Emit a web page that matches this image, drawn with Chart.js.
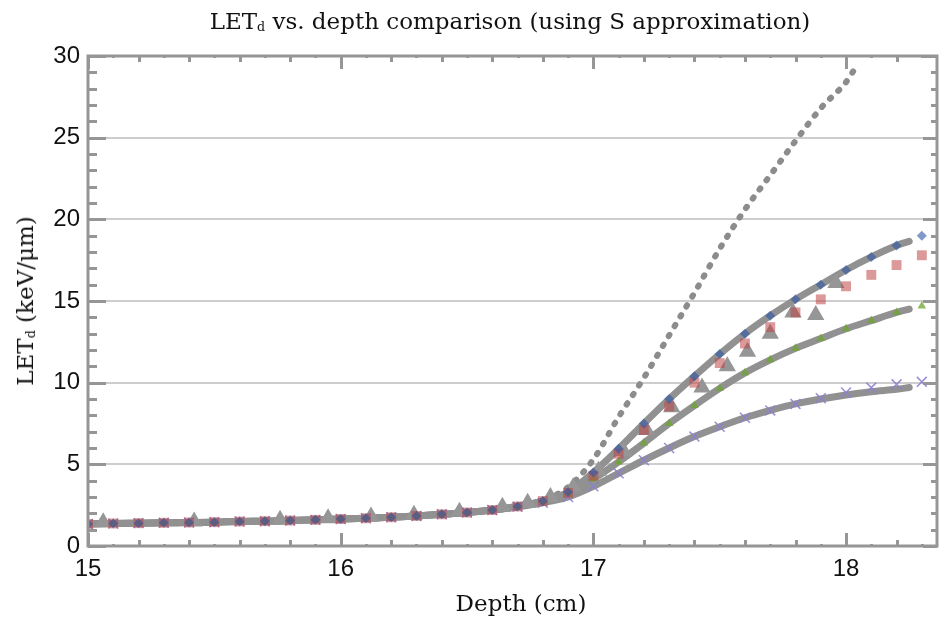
<!DOCTYPE html>
<html>
<head>
<meta charset="utf-8">
<script src="https://cdn.jsdelivr.net/npm/chart.js@4.4.1/dist/chart.umd.min.js"></script>
<style>
  html, body { margin: 0; padding: 0; background: #fff; overflow: hidden; }
  #wrap { position: relative; width: 939px; height: 621px; overflow: hidden; }
  canvas { position: absolute; left: 0; top: 0; }
  .lbl { position: absolute; font-family: "DejaVu Serif", serif; color: #111; white-space: nowrap; }
  .lbl sub { font-size: 0.55em; vertical-align: -0.15em; }
  #title { left: 0; width: 1020px; top: 8px; text-align: center; font-size: 23px; }
  #xtitle { left: 0; width: 1042px; top: 590px; text-align: center; font-size: 23px; }
  #ytitle { left: 25px; top: 301px; font-size: 23px; transform: translate(-50%, -50%) rotate(-90deg); }
</style>
</head>
<body>
<div id="wrap">
  <canvas id="c" width="939" height="621"></canvas>
  <div id="title" class="lbl">LET<sub>d</sub> vs. depth comparison (using S approximation)</div>
  <div id="xtitle" class="lbl">Depth (cm)</div>
  <div id="ytitle" class="lbl">LET<sub>d</sub> (keV/μm)</div>
</div>
<script>
// ---- data ----
const depth = [15.0,15.1,15.2,15.3,15.4,15.5,15.6,15.7,15.8,15.9,16.0,16.1,16.2,16.3,16.4,16.5,16.6,16.7,16.8,16.9,17.0,17.1,17.2,17.3,17.4,17.5,17.6,17.7,17.8,17.9,18.0,18.1,18.2,18.3];
const letBlue   = [1.35,1.38,1.4,1.42,1.44,1.46,1.5,1.52,1.56,1.6,1.65,1.7,1.76,1.84,1.94,2.05,2.2,2.42,2.75,3.3,4.5,5.95,7.5,9.0,10.4,11.75,13.0,14.1,15.1,16.0,16.9,17.7,18.4,19.0];
const letRed    = [1.35,1.38,1.4,1.42,1.44,1.46,1.5,1.52,1.56,1.6,1.65,1.7,1.76,1.84,1.94,2.05,2.2,2.42,2.75,3.25,4.3,5.65,7.1,8.55,10.0,11.2,12.4,13.4,14.3,15.1,15.9,16.6,17.2,17.8];
const letGreen  = [1.35,1.38,1.4,1.42,1.44,1.46,1.5,1.52,1.56,1.6,1.65,1.7,1.76,1.84,1.94,2.05,2.2,2.42,2.75,3.2,4.1,5.15,6.3,7.5,8.6,9.65,10.6,11.4,12.1,12.7,13.3,13.8,14.3,14.7];
const letPurple = [1.35,1.38,1.4,1.42,1.44,1.46,1.5,1.52,1.56,1.6,1.65,1.7,1.76,1.84,1.94,2.05,2.2,2.4,2.65,3.0,3.65,4.45,5.25,6.0,6.7,7.3,7.85,8.3,8.7,9.05,9.4,9.7,9.9,10.05];

const fitDepth = [15.0,15.1,15.2,15.3,15.4,15.5,15.6,15.7,15.8,15.9,16.0,16.1,16.2,16.3,16.4,16.5,16.6,16.7,16.8,16.9,17.0,17.1,17.2,17.3,17.4,17.5,17.6,17.7,17.8,17.9,18.0,18.1,18.2,18.25];
const fitUpper = [1.35,1.38,1.4,1.42,1.44,1.46,1.5,1.52,1.56,1.6,1.65,1.7,1.76,1.84,1.94,2.05,2.2,2.42,2.75,3.3,4.5,5.95,7.5,9.0,10.4,11.75,13.0,14.1,15.1,16.0,16.9,17.7,18.4,18.65];
const fitMid   = [1.35,1.38,1.4,1.42,1.44,1.46,1.5,1.52,1.56,1.6,1.65,1.7,1.76,1.84,1.94,2.05,2.2,2.42,2.75,3.2,4.1,5.15,6.3,7.5,8.6,9.65,10.6,11.4,12.1,12.7,13.3,13.8,14.3,14.5];
const fitLower = [1.35,1.38,1.4,1.42,1.44,1.46,1.5,1.52,1.56,1.6,1.65,1.7,1.76,1.84,1.94,2.05,2.2,2.4,2.65,3.0,3.65,4.45,5.25,6.0,6.7,7.3,7.85,8.3,8.7,9.0,9.25,9.45,9.6,9.7];

const dotDepth = [15.0,15.1,15.2,15.3,15.4,15.5,15.6,15.7,15.8,15.9,16.0,16.1,16.2,16.3,16.4,16.5,16.6,16.7,16.8,16.9,17.0,17.1,17.2,17.3,17.4,17.5,17.6,17.7,17.8,17.9,18.0,18.03];
const dotLet   = [1.35,1.38,1.4,1.42,1.44,1.46,1.5,1.52,1.56,1.6,1.65,1.7,1.76,1.84,1.94,2.05,2.2,2.42,2.8,3.6,5.3,7.9,10.3,12.9,15.5,18.2,20.6,22.7,24.8,26.8,28.4,29.1];

const triDepth = [15.06,15.42,15.76,15.95,16.12,16.29,16.47,16.64,16.74,16.83,16.92,17.02,17.12,17.21,17.31,17.43,17.53,17.61,17.70,17.79,17.88,17.96];
const triLet   = [1.45,1.5,1.6,1.7,1.8,1.92,2.1,2.4,2.65,3.0,3.6,4.6,5.8,7.1,8.5,9.7,11.0,11.9,13.0,14.3,14.15,16.1];

const xTicks = [15, 16, 17, 18];
const yTicks = [0, 5, 10, 15, 20, 25, 30];

// ---- helpers ----
const pts = (xs, ys) => xs.map((x, i) => ({ x: x, y: ys[i] }));

const GRAY = 'rgb(145,145,145)';
const FRAME = 'rgb(150,150,150)';

const frameTicks = {
  id: 'frameTicks',
  afterDatasetsDraw(chart) {
    const { ctx, chartArea: a, scales: { x, y } } = chart;
    ctx.save();
    ctx.strokeStyle = FRAME;
    ctx.lineCap = 'butt';
    ctx.lineWidth = 3;
    for (let v = y.min; v <= y.max + 1e-9; v += 1) {
      const py = Math.round(y.getPixelForValue(v)) + 0.5;
      const major = Math.abs(v % 5) < 1e-9;
      ctx.beginPath();
      ctx.moveTo(a.left, py); ctx.lineTo(a.left + (major ? 18 : 9), py);
      ctx.moveTo(a.right, py); ctx.lineTo(a.right - (major ? 14 : 6), py);
      ctx.stroke();
    }
    const t0 = Math.round(x.min * 10), t1 = Math.floor(x.max * 10 + 1e-6);
    for (let t = t0; t <= t1; t++) {
      const px = Math.round(x.getPixelForValue(t / 10)) + 0.5;
      const len = (t % 10 === 0) ? 13 : (t % 2 === 0 ? 6 : 2);
      ctx.beginPath();
      ctx.moveTo(px, a.bottom); ctx.lineTo(px, a.bottom - len);
      ctx.moveTo(px, a.top); ctx.lineTo(px, a.top + len);
      ctx.stroke();
    }
    ctx.strokeRect(a.left, a.top, a.right - a.left, a.bottom - a.top);
    ctx.restore();
  }
};

const ctx = document.getElementById('c').getContext('2d');
new Chart(ctx, {
  type: 'scatter',
  data: {
    datasets: [
      { label: 'Blue', data: pts(depth, letBlue), pointStyle: 'rectRot', radius: 5,
        backgroundColor: 'rgba(45,85,165,0.6)', borderColor: 'rgba(45,85,165,0.6)', borderWidth: 0, order: 1 },
      { label: 'Red', data: pts(depth, letRed), pointStyle: 'rect', radius: 7,
        backgroundColor: 'rgba(190,70,70,0.55)', borderColor: 'rgba(190,70,70,0.55)', borderWidth: 0, order: 2 },
      { label: 'Green', data: pts(depth, letGreen), pointStyle: 'triangle', radius: 5,
        backgroundColor: 'rgba(110,165,45,0.75)', borderColor: 'rgba(110,165,45,0.75)', borderWidth: 0, order: 3 },
      { label: 'Purple', data: pts(depth, letPurple), pointStyle: 'crossRot', radius: 7,
        backgroundColor: 'rgba(140,130,205,0.9)', borderColor: 'rgba(140,130,205,0.9)', borderWidth: 1.5, order: 4 },
      { label: 'Tri', data: pts(triDepth, triLet), pointStyle: 'triangle', radius: 10,
        backgroundColor: 'rgb(150,150,150)', borderColor: 'rgb(150,150,150)', borderWidth: 0, order: 5 },
      { label: 'FitUpper', data: pts(fitDepth, fitUpper), showLine: true, pointRadius: 0,
        borderColor: GRAY, borderWidth: 7, cubicInterpolationMode: 'monotone', borderCapStyle: 'round', order: 6 },
      { label: 'FitMid', data: pts(fitDepth, fitMid), showLine: true, pointRadius: 0,
        borderColor: GRAY, borderWidth: 7, cubicInterpolationMode: 'monotone', borderCapStyle: 'round', order: 7 },
      { label: 'FitLower', data: pts(fitDepth, fitLower), showLine: true, pointRadius: 0,
        borderColor: GRAY, borderWidth: 7, cubicInterpolationMode: 'monotone', borderCapStyle: 'round', order: 8 },
      { label: 'Dotted', data: pts(dotDepth, dotLet), showLine: true, pointRadius: 0,
        borderColor: 'rgb(140,140,140)', borderWidth: 6, borderDash: [1.5, 10], borderCapStyle: 'round',
        cubicInterpolationMode: 'monotone', order: 9 }
    ]
  },
  options: {
    responsive: false,
    animation: false,
    events: [],
    layout: { autoPadding: false, padding: { left: 0, right: 2, top: 56, bottom: 0 } },
    plugins: { legend: { display: false }, title: { display: false }, tooltip: { enabled: false } },
    scales: {
      x: {
        type: 'linear', min: 15, max: 18.36,
        afterBuildTicks: s => { s.ticks = xTicks.map(v => ({ value: v })); },
        afterFit: s => { s.height = 75; },
        grid: { display: false, drawTicks: false },
        border: { display: false },
        ticks: { padding: 9, color: '#111', font: { family: '"Liberation Sans", Arial, sans-serif', size: 24 }, maxRotation: 0 }
      },
      y: {
        type: 'linear', min: 0, max: 30,
        afterBuildTicks: s => { s.ticks = yTicks.map(v => ({ value: v })); },
        afterFit: s => { s.width = 88; },
        grid: { color: 'rgb(205,205,205)', lineWidth: 2, drawTicks: false },
        border: { display: false },
        ticks: { padding: 8, color: '#111', font: { family: '"Liberation Sans", Arial, sans-serif', size: 24 } }
      }
    }
  },
  plugins: [frameTicks]
});
</script>
</body>
</html>
